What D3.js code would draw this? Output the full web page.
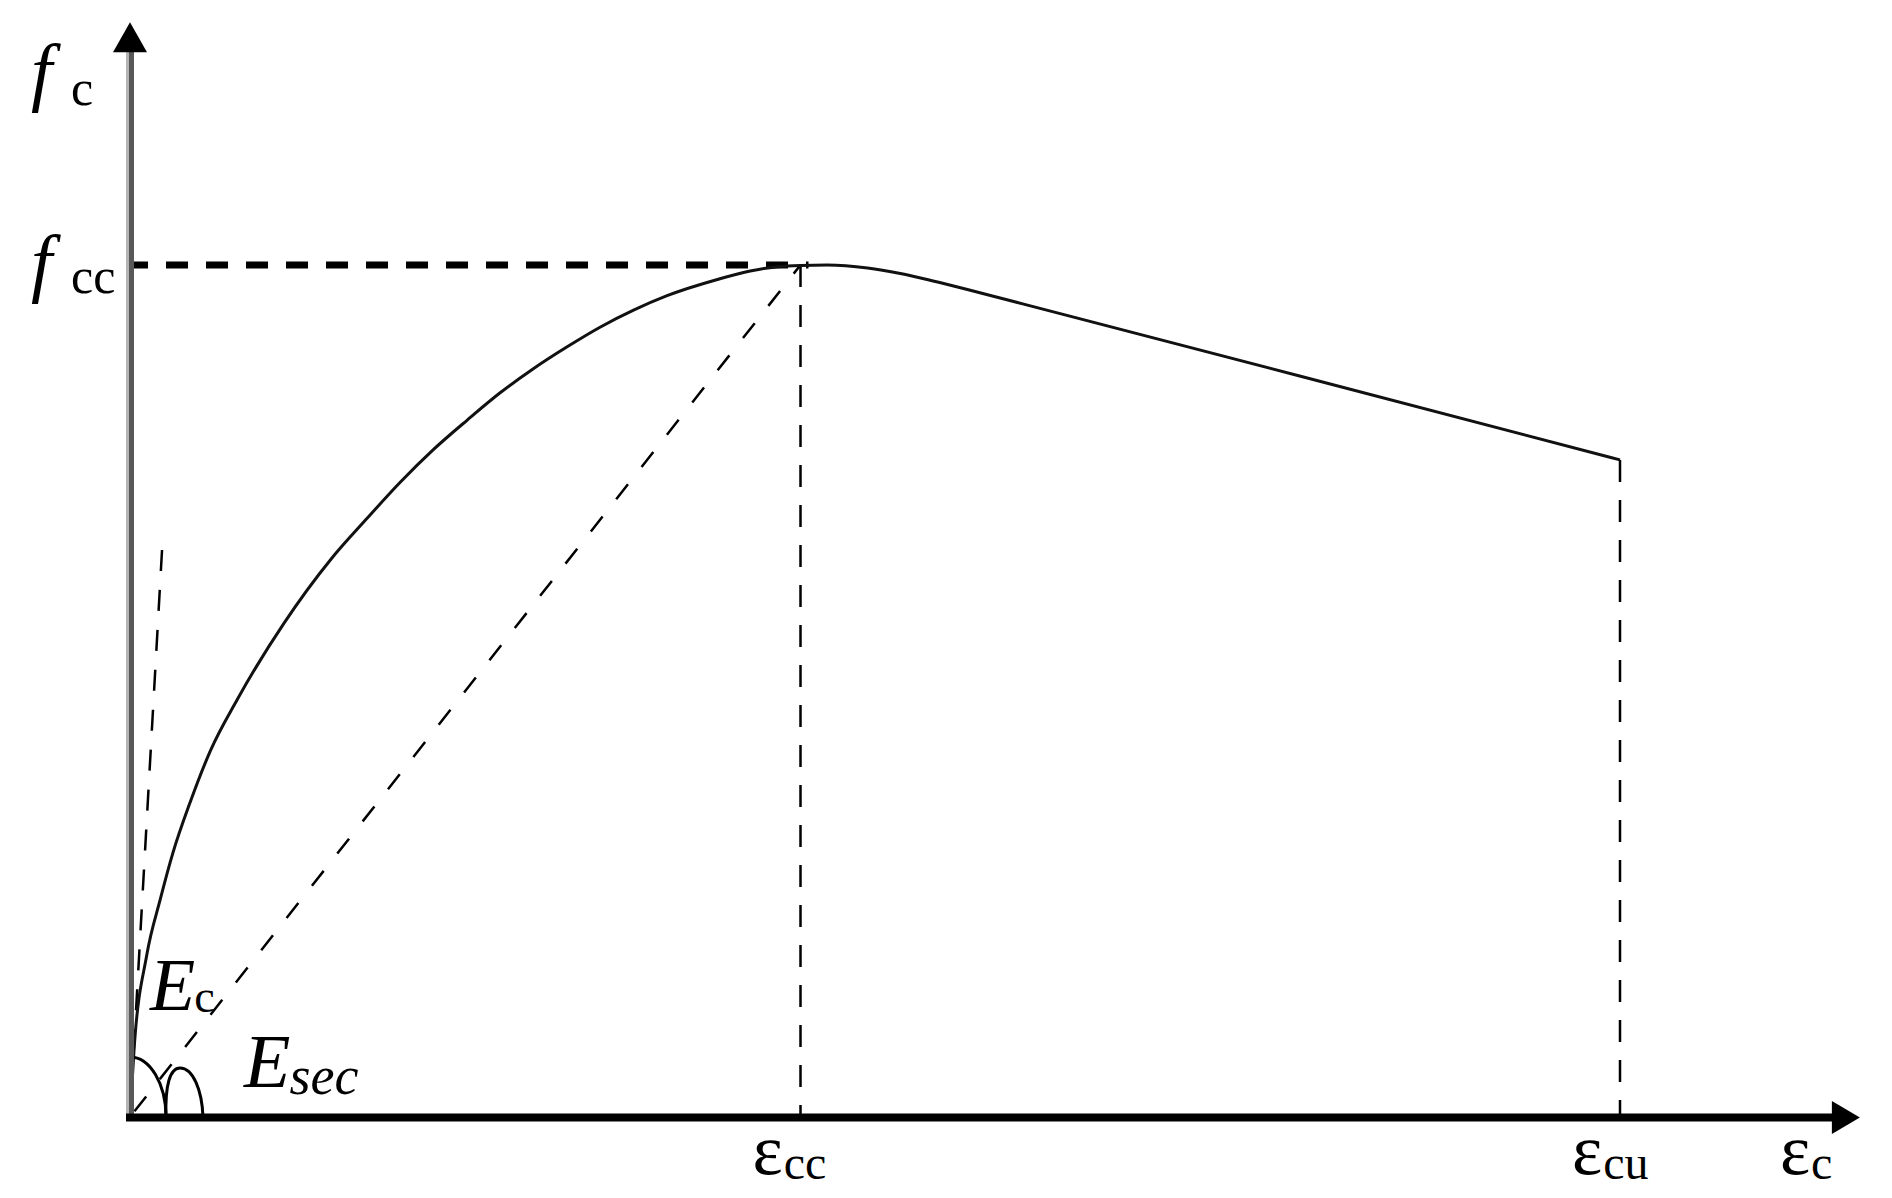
<!DOCTYPE html>
<html>
<head>
<meta charset="utf-8">
<script src="https://cdn.jsdelivr.net/npm/d3@7"></script>
<style>
  html, body { margin: 0; padding: 0; background: #fff; }
  svg { display: block; }
</style>
</head>
<body>
<svg id="chart" width="1892" height="1198"></svg>
<script>
// ---------- data (strain in ‰, stress in MPa) ----------
const strain = [0, 0.027, 0.1125, 0.2025, 0.288, 0.405, 0.54, 0.72, 1.035, 1.35, 1.593, 1.8135, 2.034, 2.2635, 2.484, 2.7045, 2.934, 3.1545, 3.3795, 3.6045, 3.942, 4.1625, 4.347, 4.5, 4.68, 4.95, 5.17, 5.39, 5.62, 5.84, 7.85, 10.0];
const stress = [0, 3.15, 7.6, 10.2, 12.4, 14.8, 17.2, 19.6, 23.2, 26.2, 28.12, 29.8, 31.32, 32.72, 34.0, 35.12, 36.16, 37.08, 37.88, 38.56, 39.32, 39.72, 39.92, 39.98, 40.0, 39.86, 39.6, 39.25, 38.85, 38.45, 34.79, 30.85];
const epsCC = 4.5, fCC = 40;           // peak
const epsCU = 10.0, fCU = 30.85;       // ultimate
const tangentEnd = [0.215, 26.62];     // initial modulus Ec line end
const secantEnd = [4.5, 40];           // secant modulus line end
const xAxisMax = 11.61, yAxisMax = 51.4;
const xTickValues = [epsCC, epsCU, xAxisMax];
const xTickMain = ["ε", "ε", "ε"];
const xTickSub = ["cc", "cu", "c"];
const yTickValues = [yAxisMax, fCC];
const yTickMain = ["f", "f"];
const yTickSub = ["c", "cc"];

// ---------- scales ----------
const x = d3.scaleLinear().domain([0, epsCU]).range([130, 1620]);
const y = d3.scaleLinear().domain([0, fCC]).range([1117, 265]);

const svg = d3.select("#chart");
const ox = x(0), oy = y(0);
const font = "'Liberation Serif', 'Times New Roman', serif";

// ---------- dashed guides ----------
svg.append("line")
  .attr("x1", x(0)).attr("y1", y(fCC)).attr("x2", x(epsCC) + 8).attr("y2", y(fCC))
  .attr("stroke", "#000").attr("stroke-width", 7).attr("stroke-dasharray", "22,18")
  .attr("stroke-dashoffset", 4);
svg.append("line")
  .attr("x1", x(epsCC)).attr("y1", y(fCC)).attr("x2", x(epsCC)).attr("y2", y(0))
  .attr("stroke", "#000").attr("stroke-width", 2.5).attr("stroke-dasharray", "22,18");
svg.append("line")
  .attr("x1", x(epsCU)).attr("y1", y(fCU)).attr("x2", x(epsCU)).attr("y2", y(0))
  .attr("stroke", "#000").attr("stroke-width", 2.5).attr("stroke-dasharray", "22,18");
// tangent (Ec)
svg.append("line")
  .attr("x1", x(tangentEnd[0])).attr("y1", y(tangentEnd[1])).attr("x2", x(0)).attr("y2", y(0))
  .attr("stroke", "#000").attr("stroke-width", 2.5).attr("stroke-dasharray", "21,19");
// secant (Esec)
svg.append("line")
  .attr("x1", x(secantEnd[0])).attr("y1", y(secantEnd[1])).attr("x2", x(0)).attr("y2", y(0))
  .attr("stroke", "#000").attr("stroke-width", 2.5).attr("stroke-dasharray", "19,22")
  .attr("stroke-dashoffset", 8);

// ---------- curve ----------
const pts = strain.map((s, i) => [s, stress[i]]);
svg.append("path")
  .datum(pts)
  .attr("fill", "none").attr("stroke", "#111").attr("stroke-width", 3)
  .attr("d", d3.line().x(d => x(d[0])).y(d => y(d[1])).curve(d3.curveMonotoneX));

// ---------- angle markers ----------
svg.append("path")
  .attr("d", `M${ox},${oy - 60} A36,60 0 0 1 ${ox + 36},${oy}`)
  .attr("fill", "none").attr("stroke", "#000").attr("stroke-width", 3);
svg.append("path")
  .attr("d", `M${ox + 36},${oy} C${ox + 35},${oy - 32} ${ox + 40},${oy - 49} ${ox + 50},${oy - 49} C${ox + 63},${oy - 49} ${ox + 72},${oy - 27} ${ox + 73},${oy}`)
  .attr("fill", "none").attr("stroke", "#000").attr("stroke-width", 3);

// ---------- axes ----------
// y axis (grey)
svg.append("line").attr("x1", ox - 2.5).attr("x2", ox - 2.5).attr("y1", y(yAxisMax) + 25).attr("y2", oy + 4)
  .attr("stroke", "#b4b4b4").attr("stroke-width", 3);
svg.append("line").attr("x1", ox + 1.5).attr("x2", ox + 1.5).attr("y1", y(yAxisMax) + 25).attr("y2", oy + 4)
  .attr("stroke", "#585858").attr("stroke-width", 5);
svg.append("path")
  .attr("d", `M${ox},${y(yAxisMax)} L${ox + 17},${y(yAxisMax) + 30} L${ox - 17},${y(yAxisMax) + 30} Z`)
  .attr("fill", "#000");
// x axis (black)
svg.append("line").attr("x1", ox - 4).attr("x2", x(xAxisMax) - 20).attr("y1", oy + 0.5).attr("y2", oy + 0.5)
  .attr("stroke", "#000").attr("stroke-width", 8);
svg.append("path")
  .attr("d", `M${x(xAxisMax)},${oy + 0.5} L${x(xAxisMax) - 28},${oy - 16} L${x(xAxisMax) - 28},${oy + 17} Z`)
  .attr("fill", "#000");

// ---------- tick labels ----------
const yLab = svg.append("g").attr("font-family", font).attr("fill", "#000");
yTickValues.forEach((v, i) => {
  const t = yLab.append("text");
  t.append("tspan").attr("x", 31).attr("y", y(v) + (i === 0 ? 75 : 23))
    .attr("font-size", 76).attr("font-style", "italic").text(yTickMain[i]);
  t.append("tspan").attr("x", 71).attr("y", y(v) + (i === 0 ? 83 : 28))
    .attr("font-size", 50).text(yTickSub[i]);
});

const xLab = svg.append("g").attr("font-family", font).attr("fill", "#000");
xTickValues.forEach((v, i) => {
  const t = xLab.append("text");
  const cx = x(v);
  t.append("tspan").attr("x", cx - 48).attr("y", oy + 57).attr("font-size", 72).text(xTickMain[i]);
  t.append("tspan").attr("dx", 1).attr("y", oy + 62).attr("font-size", 48).text(xTickSub[i]);
});
// εc label sits left of the arrow tip
xLab.selectAll("text").filter((d, i) => i === 2).select("tspan").attr("x", x(xAxisMax) - 80);

// ---------- modulus labels ----------
const mLab = svg.append("g").attr("font-family", font).attr("fill", "#000");
const ec = mLab.append("text");
ec.append("tspan").attr("x", ox + 20).attr("y", oy - 107).attr("font-size", 74).attr("font-style", "italic").text("E");
ec.append("tspan").attr("dx", -1).attr("y", oy - 105).attr("font-size", 46).text("c");
const es = mLab.append("text");
es.append("tspan").attr("x", ox + 114).attr("y", oy - 30).attr("font-size", 76).attr("font-style", "italic").text("E");
es.append("tspan").attr("dx", -1).attr("y", oy - 23).attr("font-size", 54).attr("font-style", "italic").text("sec");
</script>
</body>
</html>
